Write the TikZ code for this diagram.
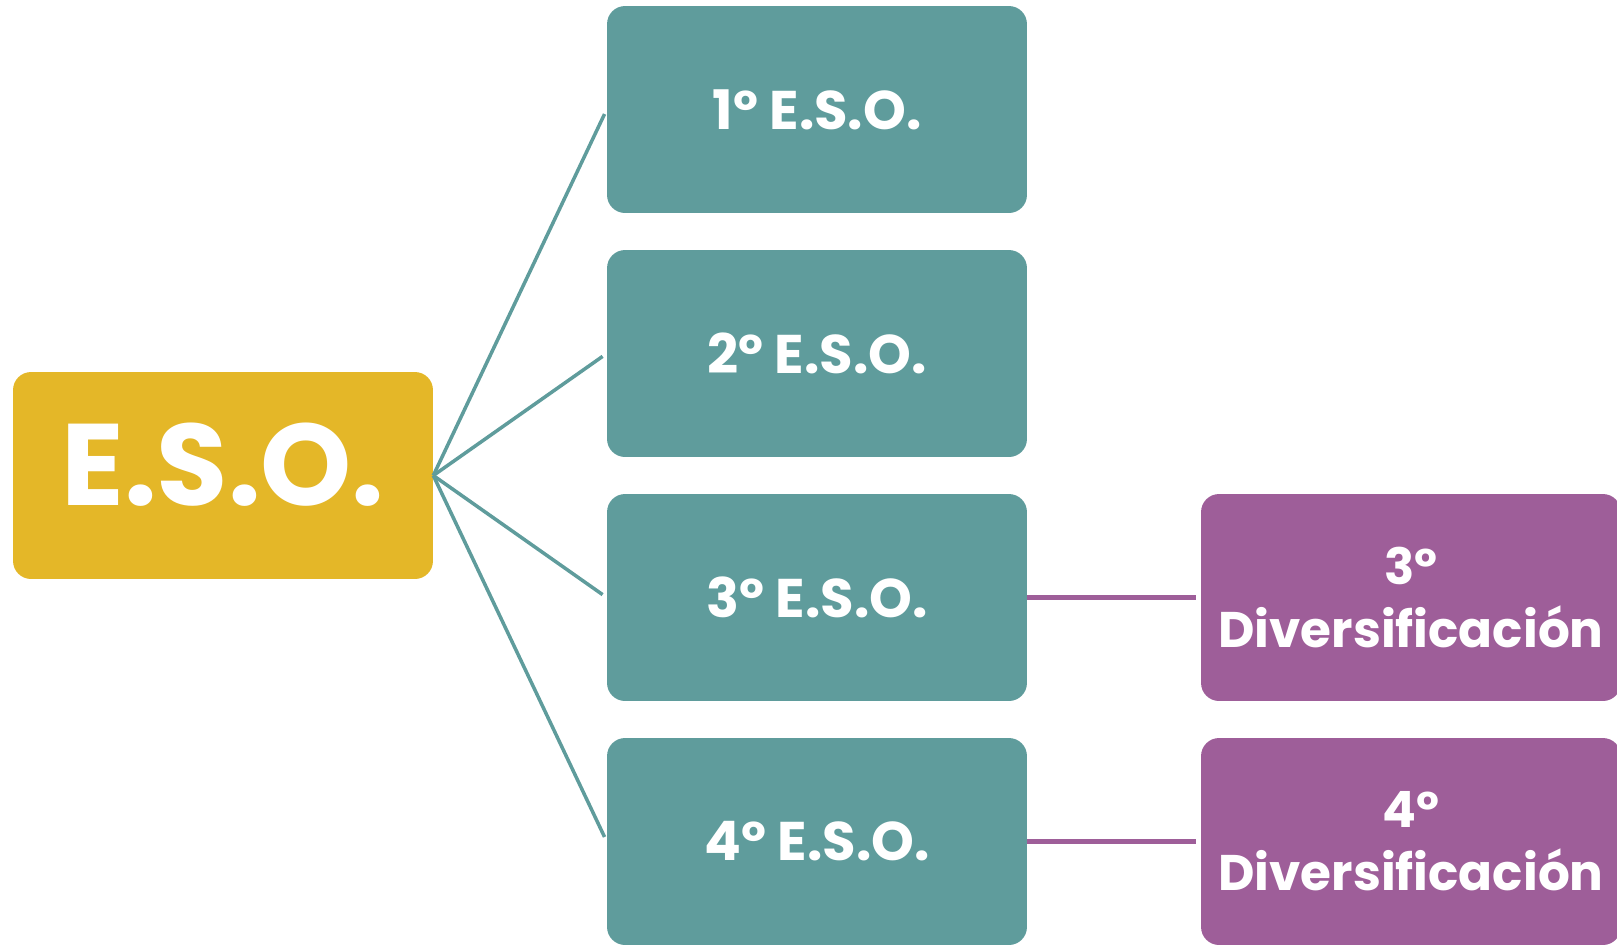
\documentclass[tikz,border=0pt]{standalone}
\usepackage{fontspec}
\setmainfont{Poppins}
\definecolor{esogold}{HTML}{E4B728}
\definecolor{esoteal}{HTML}{5F9C9C}
\definecolor{esoplum}{HTML}{9E5E99}
\begin{document}
\begin{tikzpicture}[x=0.02cm, y=-0.02cm,
  box/.style={rectangle, rounded corners=0.36cm, minimum width=8.4cm, minimum height=4.14cm, inner sep=0pt, text=white, font=\bfseries},
  root/.style={box, fill=esogold, font=\bfseries\fontsize{66}{76}\selectfont},
  course/.style={box, fill=esoteal, font=\bfseries\fontsize{31}{37}\selectfont},
  divers/.style={box, fill=esoplum, align=center, font=\bfseries\fontsize{28.5}{36}\selectfont},
  tealline/.style={draw, esoteal, line width=2pt, shorten >=0.1cm},
  plumline/.style={draw, esoplum, line width=2.6pt, shorten >=0.1cm}]
\useasboundingbox (0,0) rectangle (1617,948);
\node[root] (eso) at (223,475.5) {\raisebox{0.45cm}{E.S.O.}};
\node[course] (c1) at (817,109.5) {1º E.S.O.};
\node[course] (c2) at (817,353.5) {2º E.S.O.};
\node[course] (c3) at (817,597.5) {3º E.S.O.};
\node[course] (c4) at (817,841.5) {4º E.S.O.};
\node[divers] (d3) at (1411,597.5) {3º\\Diversificación};
\node[divers] (d4) at (1411,841.5) {4º\\Diversificación};
\path[tealline] (eso.east) -- (c1.west);
\path[tealline] (eso.east) -- (c2.west);
\path[tealline] (eso.east) -- (c3.west);
\path[tealline] (eso.east) -- (c4.west);
\path[plumline] (c3.east) -- (d3.west);
\path[plumline] (c4.east) -- (d4.west);
\end{tikzpicture}
\end{document}
